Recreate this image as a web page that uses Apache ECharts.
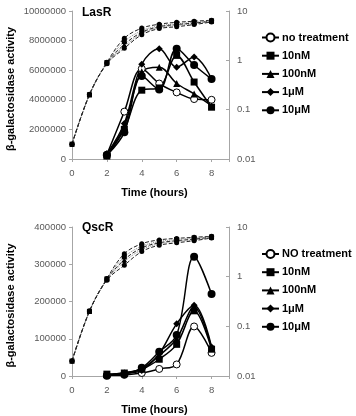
<!DOCTYPE html>
<html>
<head>
<meta charset="utf-8">
<script src="https://cdn.jsdelivr.net/npm/echarts@6/dist/echarts.min.js"></script>
<style>
  html, body { margin: 0; padding: 0; background: #fff; }
  #chart { width: 356px; height: 416px; }
</style>
</head>
<body>
<div id="chart"></div>
<script>
// time points (hours)
const hours = [0, 1, 2, 3, 4, 5, 6, 7, 8];
const legendTop = ['no treatment', '10nM', '100nM', '1μM', '10μM'];
const legendBottom = ['NO treatment', '10nM', '100nM', '1μM', '10μM'];

// LasR beta-galactosidase activity (left axis)
const lasNoTreat = [null, null, 300000, 3200000, 6100000, 5100000, 4500000, 4050000, 4000000];
const las10nM = [null, null, 200000, 2000000, 4650000, 4800000, 7000000, 5200000, 3500000];
const las100nM = [null, null, 300000, 2200000, 5900000, 6200000, 5100000, 4400000, 3600000];
const las1uM = [null, null, 350000, 2400000, 6400000, 7450000, 6200000, 6900000, 5400000];
const las10uM = [null, null, 250000, 1800000, 5600000, 4700000, 7450000, 6350000, 5400000];

// LasR growth (right log axis)
const lasOdNoTreat = [0.02, 0.205, 0.91, 2.8, 4.5, 5.4, 5.9, 6.2, 6.5];
const lasOd10nM = [0.02, 0.2, 0.9, 2.4, 4.0, 5.0, 5.5, 5.9, 6.3];
const lasOd100nM = [0.02, 0.2, 0.88, 2.1, 3.7, 4.8, 5.3, 5.7, 6.2];
const lasOd1uM = [0.02, 0.2, 0.86, 1.9, 3.5, 4.6, 5.1, 5.5, 6.1];
const lasOd10uM = [0.02, 0.2, 0.85, 1.75, 3.3, 4.4, 4.8, 5.3, 6.0];

// QscR beta-galactosidase activity (left axis)
const qscNoTreat = [null, null, 2000, 3000, 8000, 19000, 31000, 133000, 62000];
const qsc10nM = [null, null, 5000, 8000, 18000, 45000, 85000, 175000, 72000];
const qsc100nM = [null, null, 4000, 9000, 20000, 55000, 100000, 185000, 75000];
const qsc1uM = [null, null, 3000, 7000, 15000, 60000, 140000, 190000, 78000];
const qsc10uM = [null, null, 1000, 5000, 22000, 65000, 110000, 320000, 220000];

// QscR growth (right log axis)
const qscOdNoTreat = [0.02, 0.205, 0.92, 2.9, 4.6, 5.5, 5.9, 6.2, 6.5];
const qscOd10nM = [0.02, 0.2, 0.9, 2.5, 4.1, 5.1, 5.6, 6.0, 6.3];
const qscOd100nM = [0.02, 0.2, 0.88, 2.2, 3.8, 4.8, 5.3, 5.7, 6.2];
const qscOd1uM = [0.02, 0.2, 0.86, 2.0, 3.5, 4.6, 5.1, 5.5, 6.1];
const qscOd10uM = [0.02, 0.2, 0.85, 1.7, 3.2, 4.3, 4.8, 5.3, 6.0];

const symbols = [
  { symbol: 'circle', size: 7, hollow: true },
  { symbol: 'rect', size: 7, hollow: false },
  { symbol: 'triangle', size: 7, hollow: false },
  { symbol: 'diamond', size: 7, hollow: false },
  { symbol: 'circle', size: 8, hollow: false }
];

function pairs(arr) {
  return hours.map((h, i) => [h, arr[i]]).filter(d => d[1] != null);
}

function solidSeries(name, arr, k, xi, yi) {
  const s = symbols[k];
  return {
    name: name, type: 'line', xAxisIndex: xi, yAxisIndex: yi,
    data: pairs(arr), smooth: 0.35,
    symbol: s.symbol, symbolSize: s.size, showSymbol: true,
    lineStyle: { color: '#000', width: 1.5 },
    itemStyle: { color: s.hollow ? '#fff' : '#000', borderColor: '#000', borderWidth: s.hollow ? 1 : 0 },
    z: 3
  };
}

function growthSeries(name, arr, k, xi, yi) {
  const s = symbols[k];
  const grey = k % 2 === 1;
  return {
    name: name, type: 'line', xAxisIndex: xi, yAxisIndex: yi,
    data: pairs(arr), smooth: 0.35,
    symbol: s.symbol, symbolSize: 5,
    lineStyle: { color: grey ? '#888' : '#222', width: 1, type: grey ? 'dotted' : 'dashed' },
    itemStyle: { color: '#000', borderColor: '#000', borderWidth: 0 },
    z: 2
  };
}

const tickFont = { color: '#595959', fontSize: 9.5, fontFamily: 'Liberation Sans' };
const axisGrey = { lineStyle: { color: '#a6a6a6', width: 1 } };

function xAxis(gi) {
  return {
    type: 'value', gridIndex: gi, min: 0, max: 9, interval: 2,
    axisLine: Object.assign({ onZero: false }, axisGrey),
    axisTick: { show: true, length: 3, lineStyle: { color: '#a6a6a6' } },
    axisLabel: Object.assign({ margin: 9, formatter: v => (v % 2 === 0 && v <= 8) ? String(v) : '' }, tickFont),
    splitLine: { show: false },
    name: 'Time (hours)', nameLocation: 'middle', nameGap: 28,
    nameTextStyle: { fontSize: 11, fontWeight: 'bold', color: '#000', fontFamily: 'Liberation Sans', padding: [0, 0, 0, 8] }
  };
}

function leftAxis(gi, max, interval) {
  return {
    type: 'value', gridIndex: gi, position: 'left', min: 0, max: max, interval: interval,
    axisLine: Object.assign({ show: true }, axisGrey),
    axisTick: { show: true, length: 3, lineStyle: { color: '#a6a6a6' } },
    axisLabel: Object.assign({ margin: 6, formatter: v => String(v) }, tickFont),
    splitLine: { show: false },
    name: 'β-galactosidase activity', nameLocation: 'middle', nameRotate: 90, nameGap: 56,
    nameTextStyle: { fontSize: 11, fontWeight: 'bold', color: '#000', fontFamily: 'Liberation Sans', padding: [0, 8, 0, 0] }
  };
}

function rightAxis(gi) {
  return {
    type: 'log', logBase: 10, gridIndex: gi, position: 'right', min: 0.01, max: 10,
    axisLine: Object.assign({ show: true }, axisGrey),
    axisTick: { show: true, inside: true, length: 3, lineStyle: { color: '#a6a6a6' } },
    axisLabel: Object.assign({ margin: 8, formatter: v => String(v) }, tickFont),
    splitLine: { show: false }, minorTick: { show: false }
  };
}

function legend(names, top) {
  return {
    data: names, orient: 'vertical', left: 261, top: top, padding: 0,
    itemWidth: 17, itemHeight: 10, itemGap: 7.2, selectedMode: false,
    textStyle: { fontSize: 11, fontWeight: 'bold', color: '#000', fontFamily: 'Liberation Sans', padding: [0, 0, 0, -2] }
  };
}

const series = [];
const lasAct = [lasNoTreat, las10nM, las100nM, las1uM, las10uM];
const lasOd = [lasOdNoTreat, lasOd10nM, lasOd100nM, lasOd1uM, lasOd10uM];
const qscAct = [qscNoTreat, qsc10nM, qsc100nM, qsc1uM, qsc10uM];
const qscOd = [qscOdNoTreat, qscOd10nM, qscOd100nM, qscOd1uM, qscOd10uM];
for (let k = 0; k < 5; k++) {
  series.push(growthSeries('growth-las-' + k, lasOd[k], k, 0, 1));
  series.push(growthSeries('growth-qsc-' + k, qscOd[k], k, 1, 3));
}
for (let k = 0; k < 5; k++) {
  series.push(solidSeries(legendTop[k], lasAct[k], k, 0, 0));
  series.push(solidSeries(legendBottom[k], qscAct[k], k, 1, 2));
}

const chart = echarts.init(document.getElementById('chart'));
chart.setOption({
  animation: false,
  backgroundColor: '#fff',
  grid: [
    { left: 72, top: 11, width: 157, height: 148 },
    { left: 72, top: 227, width: 157, height: 149 }
  ],
  xAxis: [xAxis(0), xAxis(1)],
  yAxis: [leftAxis(0, 10000000, 2000000), rightAxis(0), leftAxis(1, 400000, 100000), rightAxis(1)],
  legend: [legend(legendTop, 32), legend(legendBottom, 248.5)],
  graphic: [
    { type: 'text', left: 82, top: 7, style: { text: 'LasR', font: 'bold 12px "Liberation Sans"', fill: '#000' } },
    { type: 'text', left: 82, top: 222, style: { text: 'QscR', font: 'bold 12px "Liberation Sans"', fill: '#000' } }
  ],
  series: series
});
</script>
</body>
</html>
